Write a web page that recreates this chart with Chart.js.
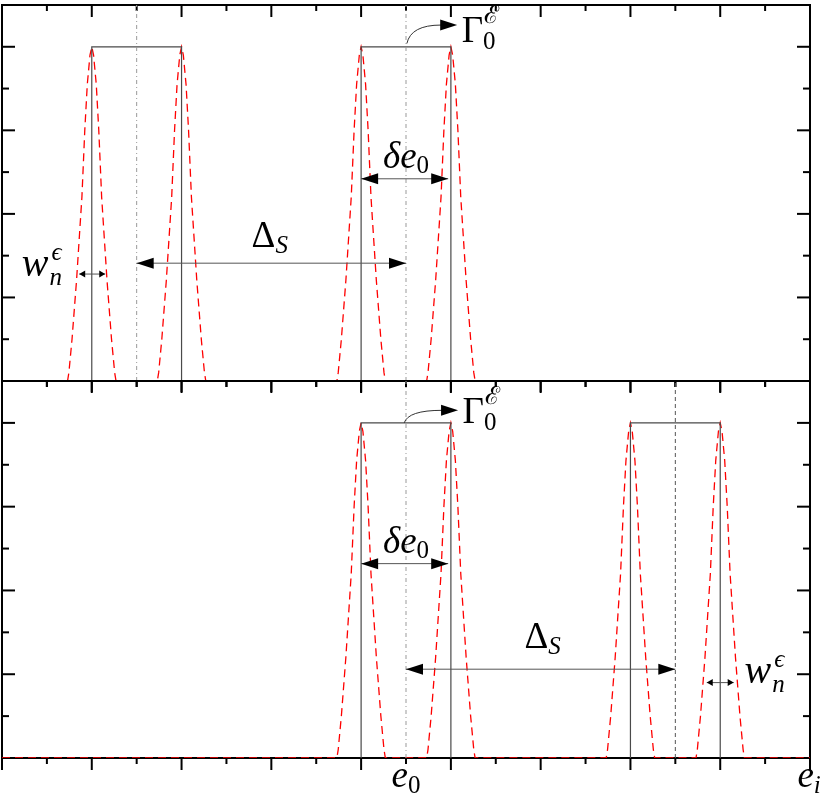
<!DOCTYPE html>
<html>
<head>
<meta charset="utf-8">
<script src="https://cdn.jsdelivr.net/npm/chart.js@4/dist/chart.umd.min.js"></script>
<style>
  html, body { margin: 0; padding: 0; background: #fff; }
  #wrap { position: relative; width: 830px; height: 802px; }
  canvas { position: absolute; left: 0; }
</style>
</head>
<body>
<div id="wrap">
  <canvas id="topChart" width="830" height="392" style="top:0"></canvas>
  <canvas id="botChart" width="830" height="426" style="top:376px"></canvas>
</div>
<script>
// axis ranges and ticks (no numeric labels in the figure)
const xRange = [0, 9];
const yRange = [0, 4.5];
const xMajor = [0, 1, 2, 3, 4, 5, 6, 7, 8, 9];
const xMinor = [0.5, 1.5, 2.5, 3.5, 4.5, 5.5, 6.5, 7.5, 8.5];
const yMajor = [0, 1, 2, 3, 4];
const yMinor = [0.5, 1.5, 2.5, 3.5];

// shape of one red dashed peak (offset from its centre, height)
const peakOffsets = [-0.27, -0.255, -0.22, -0.17, -0.11, -0.078, -0.05, -0.02, 0, 0.02, 0.05, 0.078, 0.11, 0.17, 0.22, 0.255, 0.27];
const peakHeights = [0, 0.1, 0.5, 1.2, 2.2, 3.0, 3.55, 3.9, 4, 3.9, 3.55, 3.0, 2.2, 1.2, 0.5, 0.1, 0];

// top panel
const topPeaks = [1, 2, 4, 5];
const topBoxes = [[1, 2], [4, 5]];
const topCentres = [1.5, 4.5];
// bottom panel
const botPeaks = [4, 5, 7, 8];
const botBoxes = [[4, 5], [7, 8]];
const botCentres = [4.5, 7.5];
const boxHeight = 4;

function redPoints(peaks) {
  const pts = [{ x: xRange[0], y: 0 }];
  peaks.forEach(c => {
    peakOffsets.forEach((d, i) => pts.push({ x: c + d, y: peakHeights[i] }));
  });
  pts.push({ x: xRange[1], y: 0 });
  return pts;
}

function boxPoints(boxes) {
  const pts = [];
  boxes.forEach(b => {
    pts.push({ x: b[0], y: 0 }, { x: b[0], y: boxHeight }, { x: b[1], y: boxHeight }, { x: b[1], y: 0 });
    pts.push({ x: b[1], y: null });
  });
  return pts;
}

const SERIF = '"Liberation Serif", serif';
const F_IT = 'italic 37px ' + SERIF;
const F_W = 'italic 40px ' + SERIF;
const F_UP = '37px ' + SERIF;
const F_SUB = '25px ' + SERIF;
const F_SUB_IT = 'italic 25px ' + SERIF;

// draw a row of text pieces; a piece may carry sub/sup stacked
function drawRuns(ctx, x, y, runs, align) {
  let w = 0;
  runs.forEach(r => {
    if (r.t) { ctx.font = r.f; r.w = ctx.measureText(r.t).width; }
    else {
      ctx.font = r.subF || F_SUB; const a = ctx.measureText(r.sub || '').width;
      ctx.font = r.supF || F_SUB; const b = ctx.measureText(r.sup || '').width;
      r.w = Math.max(a, b);
    }
    w += r.w + (r.gap || 0);
  });
  let cx = align === 'center' ? x - w / 2 : x;
  ctx.fillStyle = '#000';
  ctx.textBaseline = 'alphabetic';
  ctx.textAlign = 'left';
  runs.forEach(r => {
    cx += (r.gap || 0);
    if (r.t) { ctx.font = r.f; ctx.fillText(r.t, cx, y + (r.dy || 0)); }
    else {
      if (r.sub) { ctx.font = r.subF || F_SUB; ctx.fillText(r.sub, cx, y + (r.subDy || 8)); }
      if (r.sup) { ctx.font = r.supF || F_SUB; ctx.fillText(r.sup, cx + (r.supDx || 0), y + (r.supDy || -16)); }
    }
    cx += r.w;
  });
}

function arrowHead(ctx, x, y, dir, len, half) {
  ctx.beginPath();
  ctx.moveTo(x, y);
  ctx.lineTo(x - dir * len, y - half);
  ctx.lineTo(x - dir * len, y + half);
  ctx.closePath();
  ctx.fill();
}

function dblArrow(ctx, x1, x2, y, len, half) {
  ctx.strokeStyle = '#555';
  ctx.lineWidth = 1;
  ctx.beginPath();
  ctx.moveTo(x1, y);
  ctx.lineTo(x2, y);
  ctx.stroke();
  ctx.fillStyle = '#000';
  arrowHead(ctx, x1, y, -1, len, half);
  arrowHead(ctx, x2, y, 1, len, half);
}

function curvedArrow(ctx, x0, y0, x1, y1) {
  ctx.strokeStyle = '#333';
  ctx.lineWidth = 1;
  ctx.beginPath();
  ctx.moveTo(x0, y0);
  ctx.quadraticCurveTo(x0 + 4, y1, x1 - 16, y1);
  ctx.stroke();
  ctx.fillStyle = '#000';
  arrowHead(ctx, x1, y1, 1, 17, 5.5);
}

// frame and inward ticks
const framePlugin = {
  id: 'frame',
  beforeDatasetsDraw(chart) {
    const { ctx, chartArea: a, scales: { x, y } } = chart;
    ctx.save();
    ctx.strokeStyle = '#000';
    ctx.lineWidth = 2;
    ctx.strokeRect(a.left, a.top, a.right - a.left, a.bottom - a.top);
    const tick = (px, py, dx, dy) => { ctx.beginPath(); ctx.moveTo(px, py); ctx.lineTo(px + dx, py + dy); ctx.stroke(); };
    xMajor.forEach(v => { const p = x.getPixelForValue(v); tick(p, a.top, 0, 12); tick(p, a.bottom, 0, 12); });
    xMinor.forEach(v => { const p = x.getPixelForValue(v); tick(p, a.top, 0, 6); tick(p, a.bottom, 0, 6); });
    yMajor.forEach(v => { const p = y.getPixelForValue(v); tick(a.left, p, 13, 0); tick(a.right, p, -13, 0); });
    yMinor.forEach(v => { const p = y.getPixelForValue(v); tick(a.left, p, 7, 0); tick(a.right, p, -7, 0); });
    ctx.restore();
  }
};

function notesPlugin(draw) {
  return {
    id: 'notes',
    afterDraw(chart) {
      const { ctx, scales: { x, y } } = chart;
      const X = v => x.getPixelForValue(v), Y = v => y.getPixelForValue(v);
      ctx.save();
      draw(ctx, X, Y);
      ctx.restore();
    }
  };
}

function centreSets(centres, styles) {
  return centres.map((c, i) => ({
    data: [{ x: c, y: yRange[0] }, { x: c, y: yRange[1] }],
    borderColor: styles[i].color,
    borderWidth: 1,
    borderDash: styles[i].dash,
    pointRadius: 0
  }));
}

const dashDot = { color: '#999', dash: [4, 3, 1, 3] };
const dashed = { color: '#555', dash: [4, 3] };

function makeChart(id, peaks, boxes, centres, styles, pad, draw) {
  return new Chart(document.getElementById(id), {
    type: 'line',
    data: {
      datasets: [
        ...centreSets(centres, styles),
        { data: boxPoints(boxes), borderColor: '#4a4a4a', borderWidth: 1.2, pointRadius: 0, spanGaps: false },
        { data: redPoints(peaks), borderColor: '#ff0000', borderWidth: 1.3, borderDash: [8, 5], pointRadius: 0 }
      ]
    },
    options: {
      responsive: false,
      animation: false,
      layout: { padding: pad },
      plugins: { legend: { display: false }, tooltip: { enabled: false } },
      scales: {
        x: { type: 'linear', min: xRange[0], max: xRange[1], display: false },
        y: { type: 'linear', min: yRange[0], max: yRange[1], display: false }
      }
    },
    plugins: [framePlugin, notesPlugin(draw)]
  });
}

makeChart('topChart', topPeaks, topBoxes, topCentres, [dashDot, dashDot],
  { left: 2, right: 20, top: 5, bottom: 11 },
  (ctx, X, Y) => {
    curvedArrow(ctx, X(4.51), Y(4.04), X(5.07), Y(4.26));
    drawRuns(ctx, X(5.12), Y(4.06), [{ t: 'Γ', f: F_UP }, { sub: '0', sup: 'ℰ', subDy: 7, supDy: -19, supDx: 1 }]);
    dblArrow(ctx, X(4.0), X(4.97), Y(2.42), 17, 5.5);
    drawRuns(ctx, X(4.5), Y(2.55), [{ t: 'δe', f: F_IT }, { t: '0', f: F_SUB, dy: 5 }], 'center');
    dblArrow(ctx, X(1.5), X(4.5), Y(1.41), 17, 5.5);
    drawRuns(ctx, X(2.78), Y(1.6), [{ t: 'Δ', f: F_UP }, { t: 'S', f: F_SUB_IT, dy: 6 }]);
    dblArrow(ctx, X(0.86), X(1.15), Y(1.28), 6, 3.5);
    drawRuns(ctx, X(0.22), Y(1.26), [{ t: 'w', f: F_W }, { sub: 'n', sup: 'ϵ', subF: F_SUB_IT, supF: F_SUB_IT, subDy: 9, supDy: -16, supDx: 2, gap: 1 }]);
  });

makeChart('botChart', botPeaks, botBoxes, botCentres, [dashDot, dashed],
  { left: 2, right: 20, top: 5, bottom: 44 },
  (ctx, X, Y) => {
    curvedArrow(ctx, X(4.48), Y(4.0), X(5.08), Y(4.15));
    drawRuns(ctx, X(5.13), Y(4.0), [{ t: 'Γ', f: F_UP }, { sub: '0', sup: 'ℰ', subDy: 7, supDy: -19, supDx: 1 }]);
    dblArrow(ctx, X(4.0), X(4.97), Y(2.32), 17, 5.5);
    drawRuns(ctx, X(4.5), Y(2.45), [{ t: 'δe', f: F_IT }, { t: '0', f: F_SUB, dy: 5 }], 'center');
    dblArrow(ctx, X(4.5), X(7.5), Y(1.06), 17, 5.5);
    drawRuns(ctx, X(5.82), Y(1.31), [{ t: 'Δ', f: F_UP }, { t: 'S', f: F_SUB_IT, dy: 6 }]);
    dblArrow(ctx, X(7.85), X(8.15), Y(0.9), 6, 3.5);
    drawRuns(ctx, X(8.27), Y(0.9), [{ t: 'w', f: F_W }, { sub: 'n', sup: 'ϵ', subF: F_SUB_IT, supF: F_SUB_IT, subDy: 9, supDy: -16, supDx: 2, gap: 1 }]);
    // axis labels
    drawRuns(ctx, X(4.5), Y(-0.35), [{ t: 'e', f: F_IT }, { t: '0', f: F_SUB, dy: 6 }], 'center');
    drawRuns(ctx, X(8.86), Y(-0.35), [{ t: 'e', f: F_IT }, { t: 'i', f: F_SUB_IT, dy: 6 }]);
  });
</script>
</body>
</html>
